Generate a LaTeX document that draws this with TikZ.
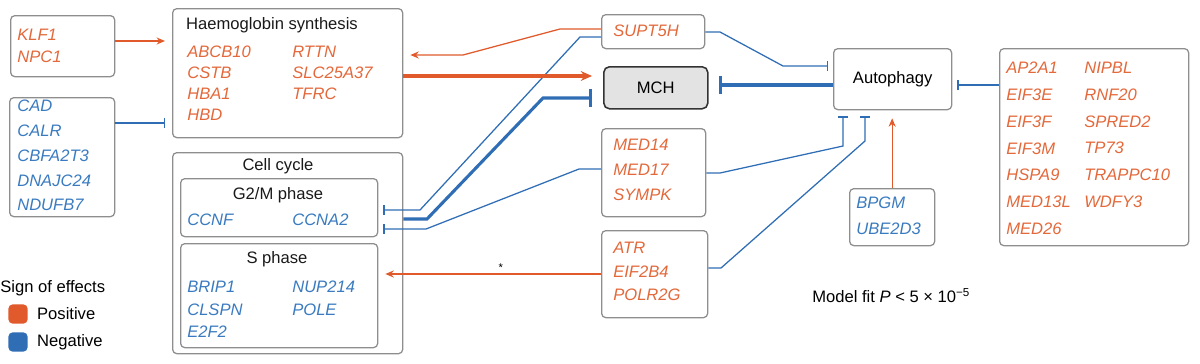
\documentclass[tikz,border=0pt]{standalone}
\usepackage{fontspec}
\setmainfont{Liberation Sans}
\usetikzlibrary{arrows.meta,positioning}
\definecolor{posc}{HTML}{E05A2B}
\definecolor{negc}{HTML}{2F6DB5}
\definecolor{postx}{HTML}{E3683A}
\definecolor{negtx}{HTML}{3A7BC0}
\definecolor{framec}{HTML}{8E8E8E}
\definecolor{mchc}{HTML}{E3E3E3}

\begin{document}
\begin{tikzpicture}[x=0.025cm,y=-0.025cm,
  font=\fontsize{11.8}{14}\selectfont,
  box/.style={draw=framec,rounded corners=3pt,line width=0.9pt,anchor=north west,inner sep=0},
  gene/.style={anchor=north west,inner sep=0,align=left,font=\fontsize{11.8}{#1}\selectfont\itshape},
  ttl/.style={inner sep=0,text=black!90},
  sq/.style={minimum size=0.48cm,rounded corners=3pt,inner sep=0},
  pa/.style={draw=posc,line width=0.9pt,-{Stealth[length=6pt,width=5pt]}},
  pthick/.style={draw=posc,line width=2.2pt,-{Stealth[length=8pt,width=7pt]}},
  na/.style={draw=negc,line width=0.9pt,-{Bar[width=7pt]}},
  nthick/.style={draw=negc,line width=2.2pt,-{Bar[width=13pt]}}]
\useasboundingbox (0,0) rectangle (1200,363);

\node[box,minimum width=2.6cm,minimum height=1.525cm] (klf) at (10,15) {};
\node[gene=15.6pt,text=postx] (klfg) at (17,29) {KLF1\\NPC1};
\node[box,minimum width=2.625cm,minimum height=2.975cm] (cad) at (9,97) {};
\node[gene=17.6pt,text=negtx] (cadg) at (17,100) {CAD\\CALR\\CBFA2T3\\DNAJC24\\NDUFB7};

\node[box,minimum width=5.75cm,minimum height=3.225cm] (haem) at (172,8) {};
\node[ttl] (haemt) at (272,25) {Haemoglobin synthesis};
\node[gene=15pt,text=postx] (haem1) at (187,45.7) {ABCB10\\CSTB\\HBA1\\HBD};
\node[gene=15pt,text=postx] (haem2) at (292,45.7) {RTTN\\SLC25A37\\TFRC};

\node[box,minimum width=5.75cm,minimum height=5.025cm] (cell) at (172,152) {};
\node[ttl] (cellt) at (278,166) {Cell cycle};
\node[box,minimum width=4.925cm,minimum height=1.45cm] (g2m) at (180,178) {};
\node[ttl] (g2mt) at (278,195) {G2/M phase};
\node[gene=15pt,text=negtx] (g2m1) at (187,214) {CCNF};
\node[gene=15pt,text=negtx] (g2m2) at (292,214) {CCNA2};
\node[box,minimum width=4.925cm,minimum height=2.6cm] (sph) at (180,243) {};
\node[ttl] (spht) at (277,259) {S phase};
\node[gene=16pt,text=negtx] (sph1) at (187,281) {BRIP1\\CLSPN\\E2F2};
\node[gene=16pt,text=negtx] (sph2) at (292,281) {NUP214\\POLE};

\node[box,minimum width=2.575cm,minimum height=0.85cm] (supt) at (601,14) {};
\node[gene=15pt,text=postx] (suptg) at (613,25) {SUPT5H};
\node[box,draw=black!80,fill=mchc,line width=1.1pt,rounded corners=4pt,minimum width=2.6cm,minimum height=1.05cm] (mch) at (603,66) {MCH};
\node[box,minimum width=2.6cm,minimum height=2.2cm] (med) at (601,128) {};
\node[gene=17.8pt,text=postx] (medg) at (613,139) {MED14\\MED17\\SYMPK};
\node[box,minimum width=2.65cm,minimum height=2.175cm] (atr) at (601,230) {};
\node[gene=16.7pt,text=postx] (atrg) at (613,242) {ATR\\EIF2B4\\POLR2G};

\node[box,minimum width=2.95cm,minimum height=1.525cm] (auto) at (833,48) {Autophagy};
\node[box,minimum width=2.125cm,minimum height=1.425cm] (bpgm) at (849,188) {};
\node[gene=18.5pt,text=negtx] (bpgmg) at (856,197) {BPGM\\UBE2D3};
\node[box,minimum width=4.725cm,minimum height=4.925cm] (rbox) at (999,48) {};
\node[gene=19pt,text=postx] (rg1) at (1006,62) {AP2A1\\EIF3E\\EIF3F\\EIF3M\\HSPA9\\MED13L\\MED26};
\node[gene=19pt,text=postx] (rg2) at (1084,62) {NIPBL\\RNF20\\SPRED2\\TP73\\TRAPPC10\\WDFY3};

\node[anchor=west,inner sep=0] (sgn) at (0,288) {Sign of effects};
\node[sq,fill=posc] (sqp) at (18,314) {};
\node[right=0.225cm of sqp,inner sep=0] (posl) {Positive};
\node[sq,fill=negc] (sqn) at (18,342) {};
\node[right=0.225cm of sqn,inner sep=0] (negl) {Negative};
\node[anchor=west,inner sep=0] (mfit) at (812,296) {Model fit \textit{P} < 5 × 10\textsuperscript{−5}};

\draw[pa,shorten >=0.175cm] (klf.east |- 0,41) -- (haem.west |- 0,41);
\draw[na,shorten >=0.175cm] (cad.east |- 0,123) -- (haem.west |- 0,123);
\draw[pa,shorten >=0.175cm] (supt.west |- 0,29) -- (560,29) -- (463,55) -- (haem.east |- 0,55);
\draw[na,shorten >=0.125cm] (supt.east |- 0,32) -- (720,32) -- (783,66) -- (auto.west |- 0,66);
\draw[na,shorten >=0.125cm] (supt.west |- 0,37) -- (580,37) -- (420,210) -- (g2m.east |- 0,210);
\draw[pthick,shorten >=0.275cm,preaction={draw=white,line width=5pt,-,shorten <=2cm,shorten >=2cm}] (haem.east |- 0,76) -- (mch.west |- 0,76);
\draw[nthick,shorten >=0.25cm] (auto.west |- 0,85) -- (mch.east |- 0,85);
\draw[nthick,shorten >=0.275cm] (cell.east |- 0,219) -- (427,219) -- (543,98) -- (mch.west |- 0,98);
\draw[na,shorten >=0.125cm] (med.west |- 0,169) -- (579,169) -- (426,229) -- (g2m.east |- 0,229);
\draw[na,shorten >=0.15cm] (med.east |- 0,173) -- (720,173) -- (843,146) -- (843,146 |- auto.south);
\draw[na,shorten >=0.15cm] (atr.east |- 0,268) -- (721,268) -- (865,141) -- (865,141 |- auto.south);
\draw[pa,shorten >=0.175cm] (atr.west |- 0,274) -- node[pos=0.45,above=1pt,inner sep=0,font=\fontsize{8}{8}\selectfont] (ast) {*} (sph.east |- 0,274);
\draw[pa,shorten >=0.2cm] (bpgm.north) -- (bpgm.north |- auto.south);
\draw[na,shorten >=0.125cm] (rbox.west |- 0,85) -- (auto.east |- 0,85);
\end{tikzpicture}
\end{document}
